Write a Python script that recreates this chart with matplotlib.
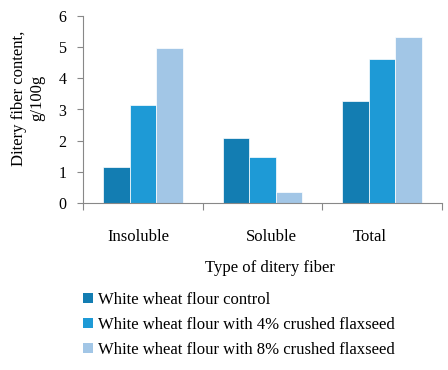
import matplotlib.pyplot as plt
import numpy as np
from matplotlib.patches import Patch

plt.rcParams['font.family'] = 'serif'
plt.rcParams['font.serif'] = ['Liberation Serif', 'Times New Roman', 'DejaVu Serif']

categories = ['Insoluble', 'Soluble', 'Total']
series_names = ['White wheat flour control',
                'White wheat flour with 4% crushed flaxseed',
                'White wheat flour with 8% crushed flaxseed']
control = [1.17, 2.08, 3.27]
flax4 = [3.13, 1.46, 4.62]
flax8 = [4.97, 0.35, 5.32]
colors = ['#137db2', '#1e9ad6', '#a2c6e6']

fig = plt.figure(figsize=(4.48, 3.70), dpi=100)
ax = fig.add_axes([83 / 448, 1 - 203 / 370, (442 - 83) / 448, (203 - 16) / 370])

x = np.arange(len(categories))
w = 0.222
for i, (vals, c) in enumerate(zip([control, flax4, flax8], colors)):
    ax.bar(x + (i - 1) * w, vals, width=w, color=c, edgecolor='white', linewidth=0.5)

ax.set_xlim(-0.5, 2.5)
ax.set_ylim(0, 6)
ax.set_yticks(range(7))
ax.tick_params(axis='y', labelsize=11.5, length=4, width=0.8, pad=8, color='#888888')
ax.set_xticks([-0.5, 0.5, 1.5, 2.5])
ax.set_xticklabels([])
ax.tick_params(axis='x', which='major', direction='out', length=5, color='#888888')
# category labels sit a little off centre in the original
ax.set_xticks([-0.04, 1.07, 1.9], minor=True)
ax.set_xticklabels(categories, minor=True, fontsize=12)
ax.tick_params(axis='x', which='minor', length=0, pad=19)
for s in ['top', 'right']:
    ax.spines[s].set_visible(False)
for s in ['left', 'bottom']:
    ax.spines[s].set_color('#888888')
ax.set_xlabel('Type of ditery fiber', fontsize=12)
ax.xaxis.set_label_coords(0.52, -0.305)

# two-line y title, lines centred on each other
fig.text(28 / 448, 1 - 98 / 370, 'Ditery fiber content,\ng/100g', rotation=90,
         ha='center', va='center', multialignment='center', fontsize=12, linespacing=1.15)

handles = [Patch(facecolor=c, edgecolor='none') for c in colors]
fig.legend(handles, series_names, loc='upper left', bbox_to_anchor=(76 / 448, 1 - 285 / 370),
           frameon=False, fontsize=12, handlelength=0.6, handleheight=0.6,
           handletextpad=0.3, labelspacing=0.55, borderaxespad=0)

fig.savefig('out.png', dpi=100)
